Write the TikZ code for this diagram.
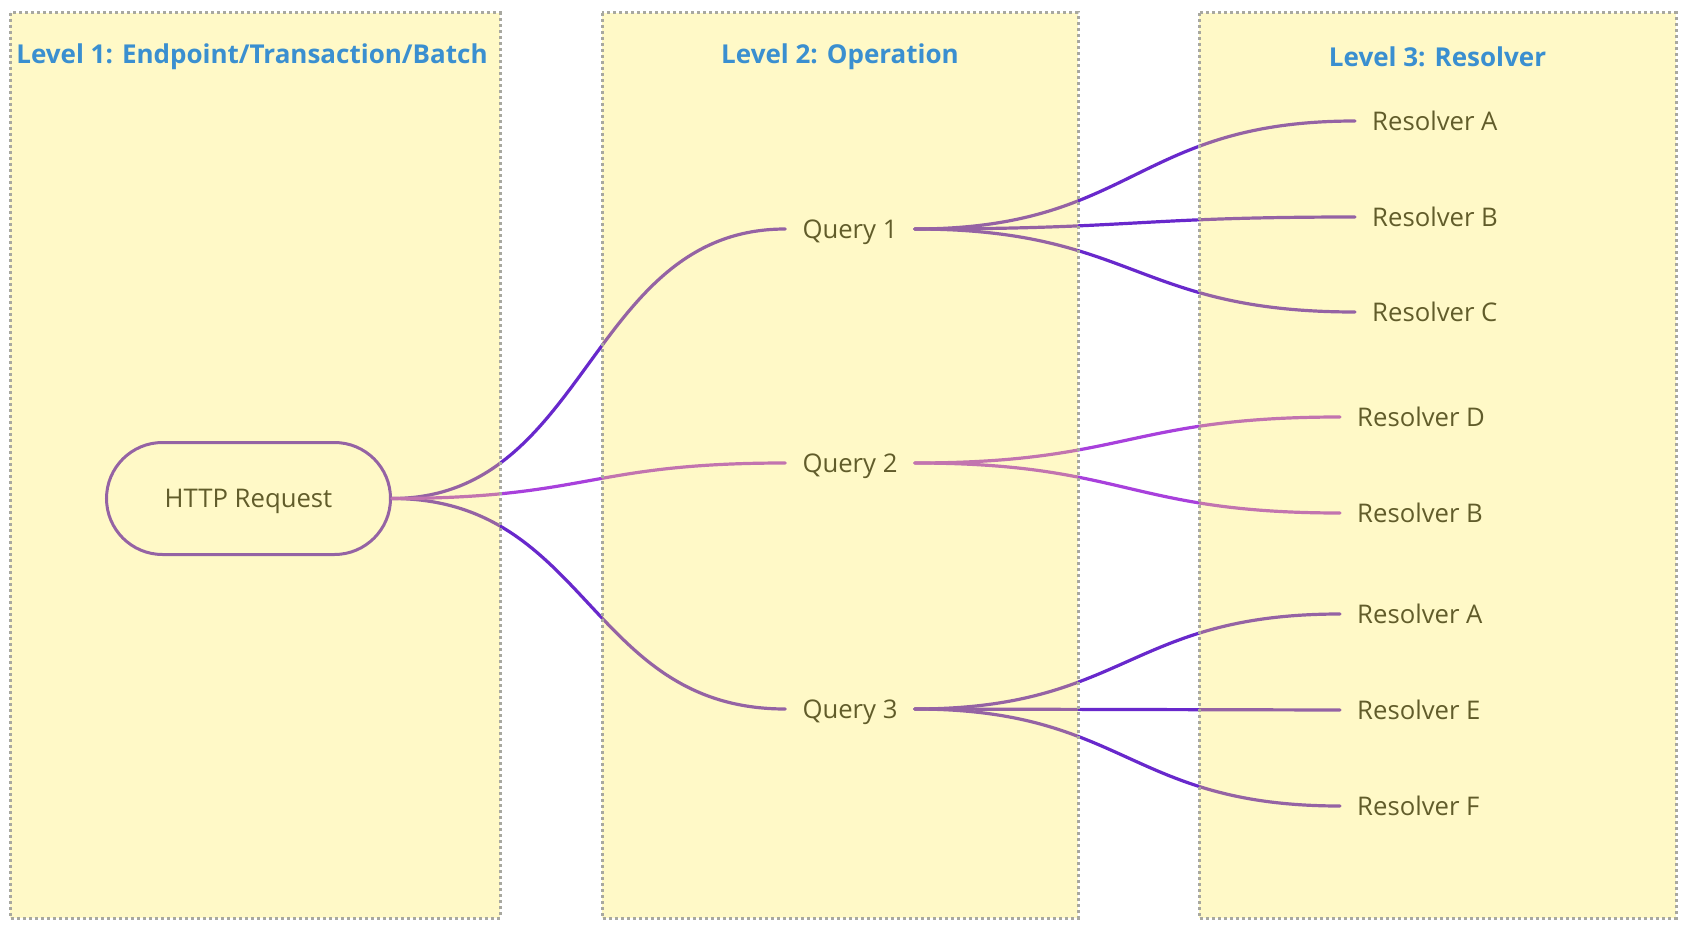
\documentclass[tikz,border=0pt]{standalone}
\usepackage{fontspec}
\setmainfont{Open Sans}
\definecolor{vline}{RGB}{104,40,204}
\definecolor{pline}{RGB}{168,64,220}
\definecolor{ybase}{RGB}{255,238,72}
\definecolor{dotgray}{RGB}{168,168,160}
\definecolor{titleblue}{RGB}{58,143,208}
\definecolor{txt}{RGB}{30,30,30}
\begin{document}
\begin{tikzpicture}[x=1pt,y=-1pt,
  labelfont/.style={font=\fontsize{25.7}{30}\selectfont, text=txt, text height=18.4pt, text depth=0pt},
  topic/.style={labelfont, inner ysep=0pt, inner xsep=17pt},
  leaf/.style={labelfont, inner ysep=0pt, inner xsep=17pt, anchor=west},
  root/.style={labelfont, draw=vline, line width=3pt, rounded corners=56pt, minimum width=284pt, minimum height=112pt},
  vbranch/.style={draw=vline, line width=3.2pt, line cap=round},
  pbranch/.style={draw=pline, line width=3.2pt, line cap=round},
  levelbox/.style={fill=ybase, fill opacity=0.3, draw=none},
  levelframe/.style={draw=dotgray, line width=3pt, dash pattern=on 3pt off 3pt},
  leveltitle/.style={font=\fontsize{26}{30}\selectfont\bfseries, text=titleblue}
]
\useasboundingbox (0,0) rectangle (1683,928);
\fill[white] (0,0) rectangle (1683,928);

% nodes
\node[root] (http) at (248.5,498.5) {HTTP Request};
\node[topic] (q1) at (850,229) {Query 1};
\node[topic] (q2) at (850,463) {Query 2};
\node[topic] (q3) at (850,709) {Query 3};

\node[leaf] (ra1) at (1355,121) {Resolver A};
\node[leaf] (rb1) at (1355,217) {Resolver B};
\node[leaf] (rc1) at (1355,312) {Resolver C};
\node[leaf] (rd2) at (1340,417) {Resolver D};
\node[leaf] (rb2) at (1340,513) {Resolver B};
\node[leaf] (ra3) at (1340,614) {Resolver A};
\node[leaf] (re3) at (1340,710) {Resolver E};
\node[leaf] (rf3) at (1340,806) {Resolver F};

% connectors level 1 -> level 2
\draw[vbranch] (http.east) .. controls +(197,0) and +(-197,0) .. (q1.west);
\draw[vbranch] (http.east) .. controls +(197,0) and +(-197,0) .. (q3.west);
\draw[pbranch] (http.east) .. controls +(197,0) and +(-197,0) .. (q2.west);

% connectors level 2 -> level 3
\draw[vbranch] (q1.east) .. controls +(220,0) and +(-220,0) .. (ra1.west);
\draw[vbranch] (q1.east) .. controls +(220,0) and +(-220,0) .. (rb1.west);
\draw[vbranch] (q1.east) .. controls +(220,0) and +(-220,0) .. (rc1.west);
\draw[pbranch] (q2.east) .. controls +(212,0) and +(-212,0) .. (rd2.west);
\draw[pbranch] (q2.east) .. controls +(212,0) and +(-212,0) .. (rb2.west);
\draw[vbranch] (q3.east) .. controls +(212,0) and +(-212,0) .. (ra3.west);
\draw[vbranch] (q3.east) .. controls +(212,0) and +(-212,0) .. (re3.west);
\draw[vbranch] (q3.east) .. controls +(212,0) and +(-212,0) .. (rf3.west);

% level boxes (translucent overlay)
\path[levelbox] (10,13) rectangle (500,918);
\path[levelbox] (602,13) rectangle (1078,918);
\path[levelbox] (1199,13) rectangle (1676,918);
\draw[levelframe] (10,13) rectangle (500,918);
\draw[levelframe] (602,13) rectangle (1078,918);
\draw[levelframe] (1199,13) rectangle (1676,918);

% titles
\node[leveltitle] (t1) at (252,57) {Level 1: Endpoint/Transaction/Batch};
\node[leveltitle] (t2) at (840,57) {Level 2: Operation};
\node[leveltitle] (t3) at (1437.5,57) {Level 3: Resolver};
\end{tikzpicture}
\end{document}
